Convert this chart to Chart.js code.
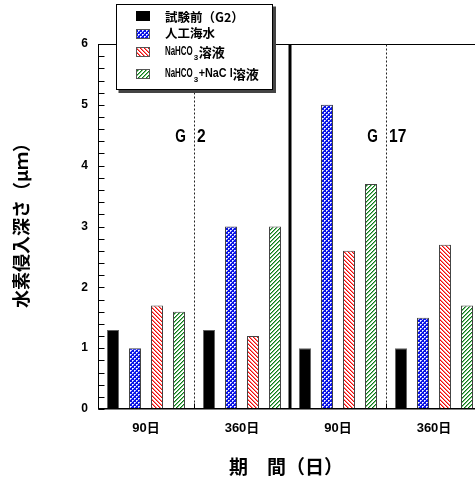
<!DOCTYPE html>
<html>
<head>
<meta charset="utf-8">
<script src="https://cdn.jsdelivr.net/npm/chart.js@4.4.1/dist/chart.umd.min.js"></script>
<style>
  html, body { margin: 0; padding: 0; background: #fff; overflow: hidden; }
  #wrap { width: 490px; height: 485px; }
</style>
</head>
<body>
<div id="wrap"><canvas id="c" width="490" height="485"></canvas></div>
<script>
// Period categories (two steel grades, two exposure periods each)
const categories = ['90日', '360日', '90日', '360日'];
const seriesNames = ['試験前（G2）', '人工海水', 'NaHCO₃溶液', 'NaHCO₃+NaCl溶液'];

// Hydrogen penetration depth (μm)
const pretest    = [1.3, 1.3, 1.0, 1.0];
const seawater   = [1.0, 3.0, 5.0, 1.5];
const nahco3     = [1.7, 1.2, 2.6, 2.7];
const nahco3Nacl = [1.6, 3.0, 3.7, 1.7];

const yMin = 0, yMax = 6, yStep = 1, yMinorStep = 0.2;

// Steel grade names, each shown on the boundary between its two periods
const gradeLetters = ['G', 'G'];
const gradeNumbers = ['2', '17'];
const gradeBoundaries = [0, 2];

const yTitle = '水素侵入深さ（μｍ）';
const xTitle = '期　間（日）';

const CJK = "'Noto Sans CJK JP', 'Noto Sans CJK SC', sans-serif";
const LAT = "'Liberation Sans', Arial, 'Noto Sans CJK JP', sans-serif";

// ---- fill patterns ----
function tile(size, paint) {
  const c = document.createElement('canvas');
  c.width = c.height = size;
  const g = c.getContext('2d');
  g.fillStyle = '#fff';
  g.fillRect(0, 0, size, size);
  paint(g, size);
  return document.createElement('canvas').getContext('2d').createPattern(c, 'repeat');
}
const crossBlue = tile(4, (g, s) => {
  g.fillStyle = '#0a14e6';
  g.fillRect(0, 0, s, s);
  g.fillStyle = '#fff';
  g.fillRect(0, 0, 1, 1); g.fillRect(2, 2, 1, 1);
  g.fillStyle = '#b8bcff';
  g.fillRect(1, 0, 1, 1); g.fillRect(3, 2, 1, 1);
  g.fillRect(0, 1, 1, 1); g.fillRect(2, 3, 1, 1);
});
const hatchRed = tile(4, (g, s) => {
  g.fillStyle = '#ff8080';
  for (let i = 0; i < s; i++) g.fillRect((i + 1) % s, i, 1, 1);
  g.fillStyle = '#ee0a0a';
  for (let i = 0; i < s; i++) g.fillRect(i, i, 1, 1);
});
const hatchGreen = tile(4, (g, s) => {
  g.fillStyle = '#7cc07c';
  for (let i = 0; i < s; i++) g.fillRect((s - i) % s, i, 1, 1);
  g.fillStyle = '#0a7a1a';
  for (let i = 0; i < s; i++) g.fillRect(s - 1 - i, i, 1, 1);
});
const fills = ['#000', crossBlue, hatchRed, hatchGreen];

// ---- decorations: frame, inward ticks, separators, labels, legend ----
const decor = {
  id: 'decor',
  afterDraw(chart) {
    const { ctx, chartArea: a, scales: { x, y } } = chart;
    ctx.save();
    const L = Math.round(a.left) + 0.5, R = Math.round(a.right) - 0.5;
    const T = Math.round(a.top) + 0.5, B = Math.round(a.bottom) - 0.5;

    ctx.strokeStyle = '#000';
    ctx.lineWidth = 1;
    ctx.strokeRect(L, T, R - L, B - T);
    ctx.beginPath(); ctx.moveTo(L - 0.5, B + 0.5); ctx.lineTo(R, B + 0.5); ctx.stroke();

    // inward minor/major ticks on the value axis
    const nMinor = Math.round((yMax - yMin) / yMinorStep);
    ctx.beginPath();
    for (let i = 0; i <= nMinor; i++) {
      const py = Math.round(y.getPixelForValue(yMin + i * yMinorStep)) + 0.5;
      ctx.moveTo(L, py); ctx.lineTo(L + 6, py);
    }
    ctx.stroke();

    // separators between categories
    for (let i = 0; i < categories.length - 1; i++) {
      const bx = Math.round((x.getPixelForValue(i) + x.getPixelForValue(i + 1)) / 2);
      if (i === 1) {
        ctx.lineWidth = 3; ctx.setLineDash([]);
        ctx.beginPath(); ctx.moveTo(bx, T); ctx.lineTo(bx, B); ctx.stroke();
      } else {
        ctx.lineWidth = 1; ctx.strokeStyle = '#222'; ctx.setLineDash([2, 2]);
        ctx.beginPath(); ctx.moveTo(bx + 0.5, T); ctx.lineTo(bx + 0.5, B - 5); ctx.stroke();
        ctx.setLineDash([]); ctx.strokeStyle = '#000';
        ctx.beginPath(); ctx.moveTo(bx + 0.5, B - 5); ctx.lineTo(bx + 0.5, B); ctx.stroke();
      }
    }
    ctx.setLineDash([]);

    // grade labels
    ctx.fillStyle = '#000';
    ctx.font = 'bold 19px ' + LAT;
    ctx.textBaseline = 'alphabetic';
    gradeBoundaries.forEach((b, k) => {
      const bx = (x.getPixelForValue(b) + x.getPixelForValue(b + 1)) / 2;
      const gy = y.getPixelForValue(4.5) + 7;
      ctx.textAlign = 'right';
      ctx.fillText(gradeLetters[k], bx - 8, gy, ctx.measureText(gradeLetters[k]).width * 0.72);
      ctx.textAlign = 'left';
      ctx.fillText(gradeNumbers[k], bx + 3, gy, ctx.measureText(gradeNumbers[k]).width * 0.82);
    });

    // axis titles
    ctx.font = 'bold 18px ' + CJK;
    ctx.textAlign = 'center';
    ctx.textBaseline = 'middle';
    ctx.save();
    ctx.translate(21, 221);
    ctx.rotate(-Math.PI / 2);
    ctx.fillText(yTitle, 0, 0);
    ctx.restore();
    ctx.font = 'bold 19px ' + CJK;
    ctx.fillText(xTitle, 286, 467);

    // legend
    const bx0 = 116.5, by0 = 4.5, bw = 156, bh = 85;
    ctx.fillStyle = '#444';
    ctx.fillRect(bx0 + 2, by0 + 2, bw + 1.5, bh + 1.5);
    ctx.fillStyle = '#fff';
    ctx.fillRect(bx0, by0, bw, bh);
    ctx.strokeStyle = '#000';
    ctx.lineWidth = 1;
    ctx.strokeRect(bx0, by0, bw, bh);

    const rows = [16, 34, 52, 74];
    rows.forEach((ry, k) => {
      ctx.fillStyle = fills[k];
      ctx.fillRect(136, ry - 5, 14, 10);
      ctx.strokeStyle = k === 0 ? '#000' : '#555';
      ctx.strokeRect(136.5, ry - 4.5, 13, 9);
    });

    ctx.fillStyle = '#000';
    ctx.textAlign = 'left';
    ctx.textBaseline = 'middle';
    const tx = 165;
    ctx.font = 'bold 12.5px ' + CJK;
    ctx.fillText(seriesNames[0], tx, rows[0] + 1);
    ctx.fillText(seriesNames[1], tx, rows[1] - 1);

    function formula(parts, yy) {
      let cx = tx;
      parts.forEach(p => {
        if (p.sub) {
          ctx.font = 'bold 8px ' + LAT;
          ctx.fillText(p.t, cx + 1, yy + 6);
          cx += 6;
        } else if (p.cjk) {
          ctx.font = 'bold 13px ' + CJK;
          ctx.fillText(p.t, cx, yy);
          cx += ctx.measureText(p.t).width;
        } else {
          ctx.font = 'bold 12px ' + LAT;
          const w = ctx.measureText(p.t).width * p.f;
          ctx.fillText(p.t, cx, yy, w);
          cx += w;
        }
      });
    }
    formula([{ t: 'NaHCO', f: 0.66 }, { t: '3', sub: true }, { t: '溶液', cjk: true }], rows[2]);
    formula([{ t: 'NaHCO', f: 0.66 }, { t: '3', sub: true }, { t: '+NaC l', f: 0.9 }, { t: '溶液', cjk: true }], rows[3]);

    ctx.restore();
  }
};

new Chart(document.getElementById('c'), {
  type: 'bar',
  data: {
    labels: categories,
    datasets: [pretest, seawater, nahco3, nahco3Nacl].map((d, k) => ({
      label: seriesNames[k],
      data: d,
      backgroundColor: fills[k],
      borderColor: k === 0 ? '#666' : '#444',
      borderWidth: { top: 1, left: 1, right: 1, bottom: 0 },
      borderSkipped: 'bottom'
    }))
  },
  options: {
    responsive: false,
    animation: false,
    devicePixelRatio: 1,
    layout: { padding: { top: 44, right: 8, left: 0, bottom: 0 } },
    datasets: { bar: { categoryPercentage: 88 / 96, barPercentage: 12 / 22 } },
    plugins: { legend: { display: false }, tooltip: { enabled: false } },
    scales: {
      x: {
        grid: { display: false, drawTicks: false },
        border: { display: false },
        ticks: { color: '#000', padding: 12, font: { family: LAT, size: 13, weight: 'bold' } },
        afterFit(s) { s.height = 76; }
      },
      y: {
        min: yMin, max: yMax,
        grid: { display: false, drawTicks: false },
        border: { display: false },
        ticks: { stepSize: yStep, color: '#000', padding: 10, font: { family: LAT, size: 12, weight: 'bold' } },
        afterFit(s) { s.width = 98; }
      }
    }
  },
  plugins: [decor]
});
</script>
</body>
</html>
